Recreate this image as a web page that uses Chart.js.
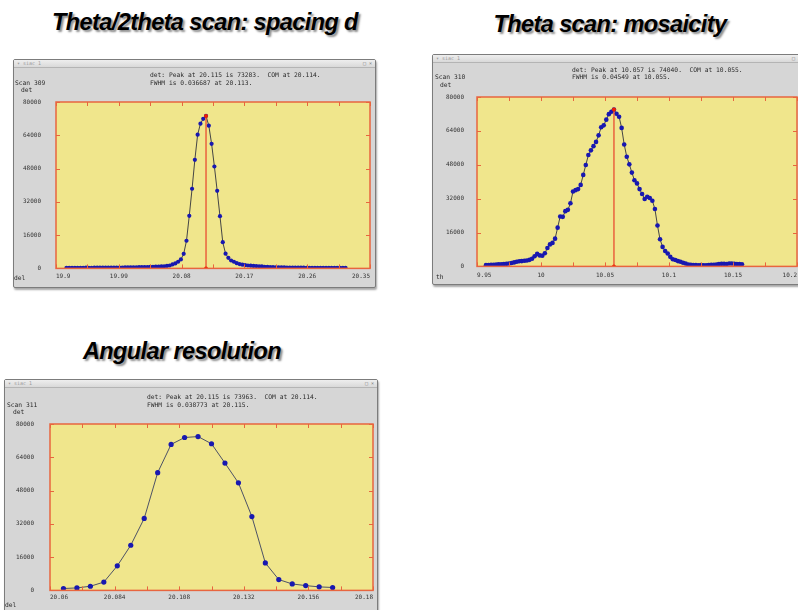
<!DOCTYPE html>
<html lang="en">

<head>
    <meta charset="UTF-8">
    <script src="https://cdn.jsdelivr.net/npm/chart.js"></script>
    <title>Scans</title>
    <style>
        body {
            margin: 0;
            width: 798px;
            height: 610px;
            overflow: hidden;
            background: #fff;
            position: relative;
            font-family: 'DejaVu Sans Mono', monospace;
        }

        .titulo {
            position: absolute;
            width: 320px;
            font-family: 'Liberation Sans', Arial, sans-serif;
            font-weight: bold;
            font-style: italic;
            font-size: 23.5px;
            line-height: 23.5px;
            letter-spacing: -0.6px;
            text-align: center;
            white-space: nowrap;
            color: #000;
            text-shadow: 2px 2px 2px rgba(0, 0, 0, 0.45);
        }

        .janela {
            position: absolute;
            background: #d6d6d6;
            border: 1px solid #7c7c7c;
            border-radius: 2px;
            box-shadow: 1px 2px 2px rgba(0, 0, 0, 0.35);
        }

        .barra {
            position: absolute;
            left: 0;
            right: 0;
            top: 0;
            height: 7px;
            background: linear-gradient(#eeeeee, #d9d9d9);
            border-bottom: 1px solid #b4b4b4;
            font-size: 5px;
            line-height: 7px;
            color: #9a9a9a;
        }

        .barra .nome { position: absolute; left: 3px; }
        .barra .botoes { position: absolute; right: 3px; color: #777; }

        .txt {
            position: absolute;
            font-size: 6.3px;
            line-height: 7px;
            color: #2a2a2a;
            white-space: pre;
        }

        canvas { position: absolute; left: 0; top: 8px; }
    </style>
</head>

<body>

    <div class="titulo" style="left:45px; top:11px;">Theta/2theta scan: spacing d</div>
    <div class="titulo" style="left:450px; top:13px;">Theta scan: mosaicity</div>
    <div class="titulo" style="left:22px; top:340px;">Angular resolution</div>

    <div class="janela" style="left:13px; top:59px; width:361px; height:227px;">
        <div class="barra"><span class="nome">▾ siac 1</span><span class="botoes">□ ×</span></div>
        <canvas id="grafico1" width="361" height="219"></canvas>
        <div class="txt" style="left:136px; top:11px;">det: Peak at 20.115 is 73283.  COM at 20.114.</div>
        <div class="txt" style="left:136px; top:19px;">FWHM is 0.036687 at 20.113.</div>
        <div class="txt" style="left:1px; top:19px;">Scan 309</div>
        <div class="txt" style="left:7px; top:26px;">det</div>
        <div class="txt" style="left:0px; top:214px;">del</div>
    </div>

    <div class="janela" style="left:432px; top:54px; width:371px; height:229px;">
        <div class="barra"><span class="nome">▾ siac 1</span><span class="botoes">□ ×</span></div>
        <canvas id="grafico2" width="371" height="220"></canvas>
        <div class="txt" style="left:139px; top:11px;">det: Peak at 10.057 is 74040.  COM at 10.055.</div>
        <div class="txt" style="left:139px; top:18px;">FWHM is 0.04549 at 10.055.</div>
        <div class="txt" style="left:2px; top:18px;">Scan 310</div>
        <div class="txt" style="left:7px; top:26px;">det</div>
        <div class="txt" style="left:3px; top:218px;">th</div>
    </div>

    <div class="janela" style="left:4px; top:379px; width:372px; height:240px;">
        <div class="barra"><span class="nome">▾ siac 1</span><span class="botoes">□ ×</span></div>
        <canvas id="grafico3" width="372" height="222"></canvas>
        <div class="txt" style="left:142px; top:13px;">det: Peak at 20.115 is 73963.  COM at 20.114.</div>
        <div class="txt" style="left:142px; top:21px;">FWHM is 0.038773 at 20.115.</div>
        <div class="txt" style="left:2px; top:21px;">Scan 311</div>
        <div class="txt" style="left:8px; top:28px;">det</div>
        <div class="txt" style="left:0px; top:221px;">del</div>
    </div>

</body>

</html>

<script>
    // Scan 309 - theta/2theta (del)
    let posicoes1 = [
        19.915, 19.919, 19.923, 19.927, 19.931, 19.935, 19.939, 19.943, 19.947, 19.951,
        19.955, 19.959, 19.963, 19.967, 19.971, 19.975, 19.979, 19.983, 19.987, 19.991,
        19.995, 19.999, 20.003, 20.007, 20.011, 20.015, 20.019, 20.023, 20.027, 20.031,
        20.035, 20.039, 20.043, 20.047, 20.051, 20.055, 20.059, 20.063, 20.067, 20.071,
        20.075, 20.079, 20.083, 20.087, 20.091, 20.095, 20.099, 20.103, 20.107, 20.111,
        20.115,
        20.119, 20.123, 20.127, 20.131, 20.135, 20.139, 20.143, 20.147, 20.151, 20.155,
        20.159, 20.163, 20.167, 20.171, 20.175, 20.179, 20.183, 20.187, 20.191, 20.195,
        20.199, 20.203, 20.207, 20.211, 20.215, 20.219, 20.223, 20.227, 20.231, 20.235,
        20.239, 20.243, 20.247, 20.251, 20.255, 20.259, 20.263, 20.267, 20.271, 20.275,
        20.279, 20.283, 20.287, 20.291, 20.295, 20.299, 20.303, 20.307, 20.311, 20.315
    ]
    let contagens1 = [
        300, 290, 310, 300, 320, 300, 310, 330, 320, 310,
        330, 340, 330, 350, 340, 360, 350, 370, 380, 380,
        400, 450, 480, 500, 520, 560, 580, 600, 640, 680,
        720, 780, 820, 880, 950, 1000, 1200, 1400, 1900, 2400,
        3200, 4300, 7000, 13300, 25300, 38300, 52200, 64300, 69600, 71900,
        73283,
        68600, 59900, 49000, 37300, 25100, 12600, 7100, 5100, 3800, 3200,
        2500, 2100, 1800, 1600, 1400, 1300, 1200, 1100, 1000, 950,
        750, 700, 650, 600, 560, 520, 480, 450, 420, 400,
        380, 360, 350, 340, 330, 320, 310, 300, 300, 290,
        290, 280, 280, 270, 270, 260, 260, 250, 250, 250
    ]
    let pico1 = [20.115, 73283]
    let ticksX1 = [19.9, 19.945, 19.99, 20.035, 20.08, 20.125, 20.17, 20.215, 20.26, 20.305, 20.35]
    let rotulosX1 = ['19.9', '19.99', '20.08', '20.17', '20.26', '20.35']

    // Scan 310 - theta (th)
    let posicoes2 = [
        9.957, 9.959, 9.961, 9.963, 9.965, 9.967, 9.969, 9.971, 9.973, 9.975,
        9.977, 9.979, 9.981, 9.983, 9.985, 9.987, 9.989, 9.991, 9.993, 9.995,
        9.997, 9.999, 10.001, 10.003, 10.005, 10.007, 10.009, 10.011, 10.013, 10.015,
        10.017, 10.019, 10.021, 10.023, 10.025, 10.027, 10.029, 10.031, 10.033, 10.035,
        10.037, 10.039, 10.041, 10.043, 10.045, 10.047, 10.049, 10.051, 10.053, 10.055,
        10.057,
        10.059, 10.061, 10.063, 10.065, 10.067, 10.069, 10.071, 10.073, 10.075, 10.077,
        10.079, 10.081, 10.083, 10.085, 10.087, 10.089, 10.091, 10.093, 10.095, 10.097,
        10.099, 10.101, 10.103, 10.105, 10.107, 10.109, 10.111, 10.113, 10.115, 10.117,
        10.119, 10.121, 10.123, 10.125, 10.127, 10.129, 10.131, 10.133, 10.135, 10.137,
        10.139, 10.141, 10.143, 10.145, 10.147, 10.149, 10.151, 10.153, 10.155, 10.157
    ]
    let contagens2 = [
        600, 620, 700, 780, 880, 980, 1050, 1120, 1200, 1400,
        1600, 1900, 2200, 2400, 2500, 2700, 2800, 3100, 3600, 4800,
        5900, 5200, 5000, 6200, 8700, 10400, 11100, 13100, 18300, 23600,
        23400, 26100, 26700, 29800, 35400, 36000, 36500, 38500, 43200, 47900,
        52600, 54800, 56800, 58800, 61900, 65700, 66600, 69300, 71900, 73000,
        74040,
        72100, 70700, 65400, 57600, 51800, 48200, 44300, 40700, 39200, 36500,
        34200, 31800, 32900, 32300, 31000, 27100, 19300, 12800, 9200, 7300,
        6100, 4500, 3400, 3000, 2500, 2200, 1700, 1400, 900, 800,
        600, 600, 500, 600, 500, 500, 600, 800, 800, 900,
        1100, 1200, 1200, 1100, 1400, 1400, 1200, 1100, 1100, 1000
    ]
    let pico2 = [10.057, 74040]
    let ticksX2 = [9.95, 9.975, 10, 10.025, 10.05, 10.075, 10.1, 10.125, 10.15, 10.175, 10.2]
    let rotulosX2 = ['9.95', '10', '10.05', '10.1', '10.15', '10.2']

    // Scan 311 - resolucao angular (del)
    let posicoes3 = [
        20.065, 20.07, 20.075, 20.08, 20.085, 20.09, 20.095, 20.1, 20.105, 20.11,
        20.115, 20.12, 20.125, 20.13, 20.135, 20.14, 20.145, 20.15, 20.155, 20.16, 20.165
    ]
    let contagens3 = [
        900, 1200, 2000, 4000, 11800, 21700, 34600, 56600, 70200, 73500,
        73963, 70500, 61200, 51700, 35500, 13200, 5200, 3100, 2300, 1700, 1400
    ]
    let ticksX3 = [20.06, 20.072, 20.084, 20.096, 20.108, 20.12, 20.132, 20.144, 20.156, 20.168, 20.18]
    let rotulosX3 = ['20.06', '20.084', '20.108', '20.132', '20.156', '20.18']

    let ticksY = [0, 16000, 32000, 48000, 64000, 80000]
    let rotulosY = ['0', '16000', '32000', '48000', '64000', '80000']

    const corMoldura = '#e8653f'

    // fundo amarelo, moldura e tracinhos internos
    const moldura = {
        id: 'moldura',
        beforeDatasetsDraw(chart) {
            const a = chart.chartArea
            const c = chart.ctx
            c.save()
            c.fillStyle = '#f0e68c'
            c.fillRect(a.left, a.top, a.right - a.left, a.bottom - a.top)
            c.restore()
        },
        afterDatasetsDraw(chart) {
            const a = chart.chartArea
            const c = chart.ctx
            const sx = chart.scales.x
            const sy = chart.scales.y
            c.save()
            c.strokeStyle = corMoldura
            c.lineWidth = 1
            c.beginPath()
            sx.ticks.forEach(t => {
                const px = Math.round(sx.getPixelForValue(t.value)) + 0.5
                c.moveTo(px, a.top); c.lineTo(px, a.top + 4)
                c.moveTo(px, a.bottom); c.lineTo(px, a.bottom - 4)
            })
            sy.ticks.forEach(t => {
                const py = Math.round(sy.getPixelForValue(t.value)) + 0.5
                c.moveTo(a.left, py); c.lineTo(a.left + 4, py)
                c.moveTo(a.right, py); c.lineTo(a.right - 4, py)
            })
            c.stroke()
            c.lineWidth = 1.5
            c.strokeRect(a.left, a.top, a.right - a.left, a.bottom - a.top)
            c.restore()
        }
    }

    function plotarScan(id, posicoes, contagens, pico, ticksX, rotulosX, caixa) {
        const pontos = posicoes.map((x, i) => ({ x: x, y: contagens[i] }))
        const datasets = []
        if (pico) {
            datasets.push({
                data: [{ x: pico[0], y: 0 }, { x: pico[0], y: pico[1] }],
                borderColor: '#e8402a',
                borderWidth: 1.2,
                pointRadius: 2,
                pointBackgroundColor: '#f01e00',
                pointBorderWidth: 0
            })
        }
        datasets.push({
            data: pontos,
            borderColor: caixa.linha,
            borderWidth: 1,
            pointRadius: caixa.raio,
            pointBackgroundColor: '#1818b0',
            pointBorderWidth: 0,
            tension: 0
        })

        new Chart(document.getElementById(id), {
            type: 'line',
            data: { datasets: datasets },
            plugins: [moldura],
            options: {
                responsive: false,
                animation: false,
                devicePixelRatio: 1,
                layout: { padding: { left: 0, right: caixa.direita, top: caixa.topo, bottom: 0 } },
                plugins: { legend: { display: false }, tooltip: { enabled: false } },
                scales: {
                    x: {
                        type: 'linear',
                        min: ticksX[0],
                        max: ticksX[ticksX.length - 1],
                        afterBuildTicks: s => { s.ticks = ticksX.map(v => ({ value: v })) },
                        afterFit: s => { s.height = caixa.altX },
                        grid: { display: false, drawTicks: false },
                        border: { display: false },
                        ticks: {
                            autoSkip: false,
                            maxRotation: 0,
                            align: 'inner',
                            padding: caixa.padX,
                            color: '#333',
                            font: { family: 'DejaVu Sans Mono', size: 6 },
                            callback: (v, i) => i % 2 === 0 ? rotulosX[i / 2] : ''
                        }
                    },
                    y: {
                        min: 0,
                        max: 80000,
                        afterBuildTicks: s => { s.ticks = ticksY.map(v => ({ value: v })) },
                        afterFit: s => { s.width = caixa.largY },
                        grid: { display: false, drawTicks: false },
                        border: { display: false },
                        ticks: {
                            padding: caixa.padY,
                            color: '#333',
                            font: { family: 'DejaVu Sans Mono', size: 6 },
                            callback: (v, i) => rotulosY[i]
                        }
                    }
                }
            }
        })
    }

    plotarScan('grafico1', posicoes1, contagens1, pico1, ticksX1, rotulosX1,
        { largY: 42, direita: 5, topo: 34, altX: 16, padX: 4, padY: 15, raio: 2.1, linha: '#454545' })
    plotarScan('grafico2', posicoes2, contagens2, pico2, ticksX2, rotulosX2,
        { largY: 44, direita: 7, topo: 34, altX: 15, padX: 5, padY: 13, raio: 2.3, linha: '#454545' })
    plotarScan('grafico3', posicoes3, contagens3, null, ticksX3, rotulosX3,
        { largY: 45, direita: 4, topo: 36, altX: 12, padX: 3, padY: 16, raio: 2.6, linha: '#4d5266' })
</script>
